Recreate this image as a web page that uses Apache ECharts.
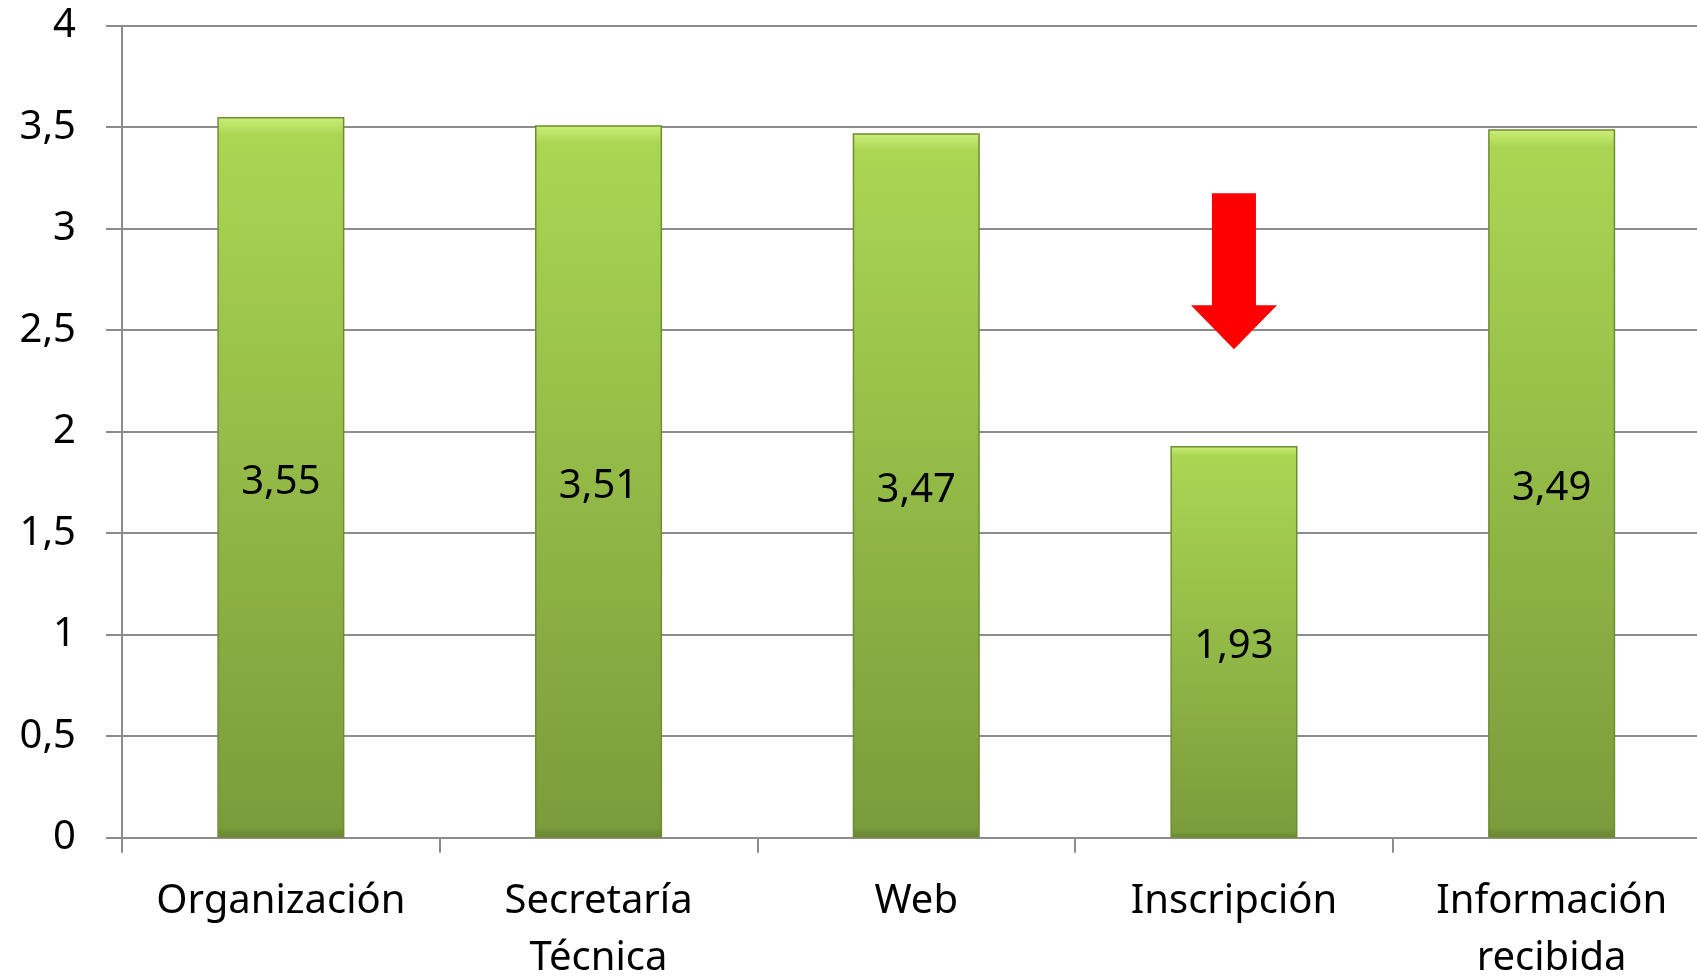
<!DOCTYPE html>
<html>
<head>
<meta charset="utf-8">
<script src="https://cdn.jsdelivr.net/npm/echarts@6/dist/echarts.min.js"></script>
<style>html,body{margin:0;padding:0;background:#fff;}#c{width:1697px;height:977px;}</style>
</head>
<body>
<div id="c"></div>
<script>
const categories = ['Organización', 'Secretaría\nTécnica', 'Web', 'Inscripción', 'Información\nrecibida'];
const values = [3.55, 3.51, 3.47, 1.93, 3.49];
const yTicks = { min: 0, max: 4, interval: 0.5 };
const arrowAt = ['Inscripción', 2.79];

const FONT = 'Noto Sans';
const chart = echarts.init(document.getElementById('c'));
const fmt = v => String(v).replace('.', ',');
chart.setOption({
  animation: false,
  backgroundColor: '#fff',
  grid: { left: 122, top: 25.7, bottom: 139.3, right: -13.5, containLabel: false, outerBoundsMode: 'none' },
  xAxis: {
    type: 'category',
    data: categories,
    axisLine: { show: true, lineStyle: { color: '#8c8c8c', width: 2 } },
    axisTick: { show: true, length: 15, lineStyle: { color: '#8c8c8c', width: 2 } },
    axisLabel: { color: '#000', fontFamily: FONT, fontSize: 40, lineHeight: 57, margin: 35, interval: 0 }
  },
  yAxis: {
    type: 'value',
    min: yTicks.min, max: yTicks.max, interval: yTicks.interval,
    axisLine: { show: true, lineStyle: { color: '#8c8c8c', width: 2 } },
    axisTick: { show: true, length: 16, lineStyle: { color: '#8c8c8c', width: 2 } },
    splitLine: { show: true, lineStyle: { color: '#8c8c8c', width: 2 } },
    axisLabel: { color: '#000', fontFamily: FONT, fontSize: 40, margin: 46, formatter: fmt }
  },
  series: [{
    type: 'bar',
    data: values,
    barWidth: '40%',
    itemStyle: {
      color: new echarts.graphic.LinearGradient(0, 0, 0, 1, [
        { offset: 0, color: '#cdee78' },
        { offset: 0.025, color: '#aad653' },
        { offset: 0.985, color: '#7b9c3b' },
        { offset: 1, color: '#66822f' }
      ]),
      borderColor: '#6f8d34',
      borderWidth: 1.5
    },
    label: {
      show: true, position: 'inside', color: '#000', fontFamily: FONT, fontSize: 40,
      offset: [0, 5],
      formatter: p => fmt(p.value)
    },
    markPoint: {
      symbol: 'path://M21,0 L65,0 L65,112 L86,112 L43,156 L0,112 L21,112 Z',
      symbolSize: [86, 156],
      itemStyle: { color: '#ff0000' },
      label: { show: false },
      data: [{ coord: arrowAt, symbolSize: [86, 156] }]
    }
  }]
});
</script>
</body>
</html>
